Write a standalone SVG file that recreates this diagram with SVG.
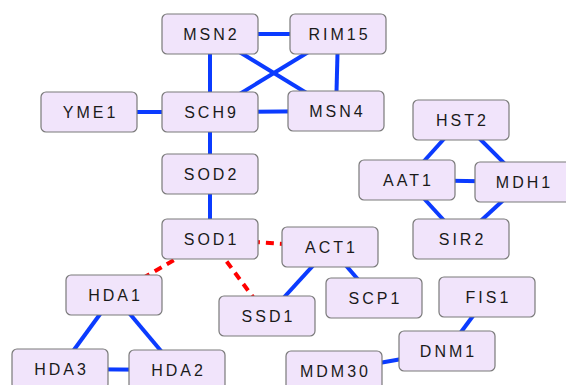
<svg xmlns="http://www.w3.org/2000/svg" width="566" height="385" viewBox="0 0 566 385">
  <style>
    .node rect { fill: #f1e4fb; stroke: #7a7a7a; stroke-width: 1.2; }
    .node text { font-family: "Liberation Sans", Arial, sans-serif; font-size: 16px; letter-spacing: 3px; fill: #1a1a1a; text-anchor: middle; }
    .edge { stroke: #0b3bff; stroke-width: 4; fill: none; }
    .weak { stroke: #ff0000; stroke-width: 4; stroke-dasharray: 8 6; fill: none; }
  </style>
  <rect width="566" height="385" fill="#ffffff"/>
  <g id="connectors">
    <line class="edge" x1="210" y1="34" x2="338" y2="34"/>
    <line class="edge" x1="210" y1="34" x2="210" y2="112"/>
    <line class="edge" x1="210" y1="34" x2="336" y2="111"/>
    <line class="edge" x1="338" y1="34" x2="210" y2="112"/>
    <line class="edge" x1="338" y1="34" x2="336" y2="111"/>
    <line class="edge" x1="210" y1="112" x2="336" y2="111"/>
    <line class="edge" x1="89" y1="112" x2="210" y2="112"/>
    <line class="edge" x1="210" y1="112" x2="210" y2="174"/>
    <line class="edge" x1="210" y1="174" x2="210" y2="239"/>
    <line class="weak" x1="210" y1="239" x2="330" y2="247"/>
    <line class="weak" x1="210" y1="239" x2="114" y2="295"/>
    <line class="weak" x1="210" y1="239" x2="267" y2="316"/>
    <line class="edge" x1="330" y1="247" x2="267" y2="316"/>
    <line class="edge" x1="330" y1="247" x2="374" y2="298"/>
    <line class="edge" x1="114" y1="295" x2="60" y2="369"/>
    <line class="edge" x1="114" y1="295" x2="177" y2="370"/>
    <line class="edge" x1="60" y1="369" x2="177" y2="370"/>
    <line class="edge" x1="461" y1="120" x2="407" y2="180"/>
    <line class="edge" x1="461" y1="120" x2="523" y2="182"/>
    <line class="edge" x1="407" y1="180" x2="523" y2="182"/>
    <line class="edge" x1="407" y1="180" x2="461" y2="239"/>
    <line class="edge" x1="523" y1="182" x2="461" y2="239"/>
    <line class="edge" x1="487" y1="297" x2="447" y2="351"/>
    <line class="edge" x1="447" y1="351" x2="334" y2="371"/>
  </g>
  <g id="MSN2" class="node"><rect x="162" y="14" width="96" height="40" rx="5"/><text x="211.5" y="40">MSN2</text></g>
  <g id="RIM15" class="node"><rect x="290" y="14" width="96" height="40" rx="5"/><text x="339.5" y="40">RIM15</text></g>
  <g id="SCH9" class="node"><rect x="162" y="92" width="96" height="40" rx="5"/><text x="211.5" y="118">SCH9</text></g>
  <g id="MSN4" class="node"><rect x="288" y="91" width="96" height="40" rx="5"/><text x="337.5" y="117">MSN4</text></g>
  <g id="YME1" class="node"><rect x="41" y="92" width="96" height="40" rx="5"/><text x="90.5" y="118">YME1</text></g>
  <g id="SOD2" class="node"><rect x="162" y="154" width="96" height="40" rx="5"/><text x="211.5" y="180">SOD2</text></g>
  <g id="SOD1" class="node"><rect x="162" y="219" width="96" height="40" rx="5"/><text x="211.5" y="245">SOD1</text></g>
  <g id="ACT1" class="node"><rect x="282" y="227" width="96" height="40" rx="5"/><text x="331.5" y="253">ACT1</text></g>
  <g id="SSD1" class="node"><rect x="219" y="296" width="96" height="40" rx="5"/><text x="268.5" y="322">SSD1</text></g>
  <g id="HDA1" class="node"><rect x="66" y="275" width="96" height="40" rx="5"/><text x="115.5" y="301">HDA1</text></g>
  <g id="HDA3" class="node"><rect x="12" y="349" width="96" height="40" rx="5"/><text x="61.5" y="375">HDA3</text></g>
  <g id="HDA2" class="node"><rect x="129" y="350" width="96" height="40" rx="5"/><text x="178.5" y="376">HDA2</text></g>
  <g id="SCP1" class="node"><rect x="326" y="278" width="96" height="40" rx="5"/><text x="375.5" y="304">SCP1</text></g>
  <g id="HST2" class="node"><rect x="413" y="100" width="96" height="40" rx="5"/><text x="462.5" y="126">HST2</text></g>
  <g id="AAT1" class="node"><rect x="359" y="160" width="96" height="40" rx="5"/><text x="408.5" y="186">AAT1</text></g>
  <g id="MDH1" class="node"><rect x="475" y="162" width="96" height="40" rx="5"/><text x="524.5" y="188">MDH1</text></g>
  <g id="SIR2" class="node"><rect x="413" y="219" width="96" height="40" rx="5"/><text x="462.5" y="245">SIR2</text></g>
  <g id="FIS1" class="node"><rect x="439" y="277" width="96" height="40" rx="5"/><text x="488.5" y="303">FIS1</text></g>
  <g id="DNM1" class="node"><rect x="399" y="331" width="96" height="40" rx="5"/><text x="448.5" y="357">DNM1</text></g>
  <g id="MDM30" class="node"><rect x="286" y="351" width="96" height="40" rx="5"/><text x="335.5" y="377">MDM30</text></g>
</svg>
